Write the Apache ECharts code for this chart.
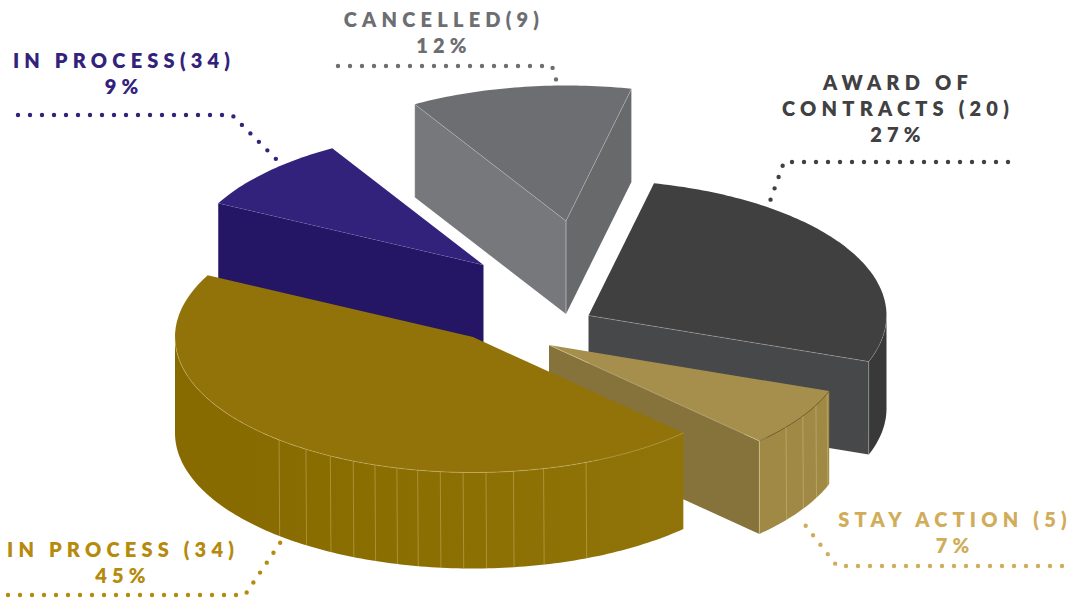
<!DOCTYPE html>
<html>
<head>
<meta charset="utf-8">
<title>Case status</title>
<style>
  html, body { margin: 0; padding: 0; background: #fff; }
  #chart { width: 1072px; height: 599px; }
  #chart svg text { letter-spacing: 5.2px; }
</style>
<script src="https://cdn.jsdelivr.net/npm/echarts@6/dist/echarts.min.js"></script>
</head>
<body>
<div id="chart"></div>
<script>
// Slice data, clockwise, starting from the back-left slice.
const categories = ['IN PROCESS(34)', 'CANCELLED(9)', 'AWARD OF\nCONTRACTS (20)', 'STAY ACTION (5)', 'IN PROCESS (34)'];
const shares = [9, 12, 27, 7, 45];

// Projection of the disc.
const START_ANGLE = 207.1;
const RADIUS_X = 298;
const RADIUS_Y = 135.5;
const DEPTH = 93;
const PIE_CENTER = [530, 300];

// Per-slice explosion offset from the disc centre, plus a depth tweak.
const explode = [[-46.5, -35], [36, -79], [58.5, 15.5], [19, 45], [-57, 37]];
const depthExtra = [0, 0, 0, 0, 3];

// Face colours per slice.
const topColors = ['#33227b', '#6d6e71', '#404040', '#a68f4d', '#917309'];
const startWallColors = ['#251665', '#77787b', '#47484a', '#86733b', '#917309'];
const endWallColors = ['#251665', '#68696b', '#47484a', '#86733b', '#917309'];
const outerColors = [
  '#251665', '#68696b', '#39393a', '#a08945',
  { type: 'linear', x: 0, y: 0, x2: 1, y2: 0, colorStops: [
    { offset: 0, color: '#876a00' }, { offset: 0.5, color: '#8c6f02' }, { offset: 1, color: '#917409' }
  ] }
];
const rimColors = ['none', 'none', 'rgba(255,255,255,0.25)', 'rgba(70,60,20,0.6)', 'rgba(225,210,150,0.5)'];
const edgeColors = ['rgba(255,255,255,0.08)', 'rgba(255,255,255,0.3)', 'rgba(255,255,255,0.3)', 'rgba(255,245,200,0.4)', 'none'];
const labelColors = ['#33227b', '#6d6e71', '#414042', '#d1ad5b', '#b58a0d'];

// Moulding seams on the outer wall, as angles round the disc.
const seamAngles = [
  [], [], [],
  [21, 26.4, 31.6, 37.3],
  [67.7, 76.3, 82.2, 87.5, 91.9, 96.3, 100.7, 104.8, 109.2, 113.7, 118.6, 124.1, 130.6]
];

// Label block centres and their dotted leaders.
const labelAnchors = [[124, 73], [444, 32], [898, 108], [955, 532], [123, 562]];
const leaders = [
  [[18, 115], [232, 115], [282, 165]],
  [[338, 66], [552, 66], [558, 86]],
  [[1008, 162], [784, 162], [769, 204]],
  [[1062, 566], [837, 566], [802, 521]],
  [[8, 595], [245, 595], [282, 540]]
];

const rad = d => d * Math.PI / 180;

// Cumulative start and end angle of each slice, from the shares alone.
const total = shares.reduce((a, b) => a + b, 0);
const spans = [];
shares.reduce((from, v) => {
  const to = from + v / total * 360;
  spans.push([from, to]);
  return to;
}, START_ANGLE);

function renderSlice(params, api) {
  const i = params.dataIndex;
  const share = api.value(0);
  const [t1, t2] = spans[i];
  const cx = PIE_CENTER[0] + explode[i][0];
  const cy = PIE_CENTER[1] + explode[i][1];
  const depth = DEPTH + depthExtra[i];
  const rim = (t, drop) => [cx + RADIUS_X * Math.cos(rad(t)), cy + RADIUS_Y * Math.sin(rad(t)) + (drop || 0)];
  const arc = (a, b, drop) => {
    const pts = [];
    const n = Math.max(2, Math.ceil(Math.abs(b - a)));
    for (let k = 0; k <= n; k++) pts.push(rim(a + (b - a) * k / n, drop));
    return pts;
  };
  const apex = [cx, cy];
  const apexLow = [cx, cy + depth];
  const children = [];

  // A straight cut face shows when its outward side turns towards the viewer.
  const cutWall = (t, fill) => children.push({
    type: 'polygon',
    shape: { points: [apex, rim(t), rim(t, depth), apexLow] },
    style: { fill: fill }
  });
  const startShows = Math.cos(rad(t1)) < 0;
  const endShows = Math.cos(rad(t2)) > 0;
  if (startShows) cutWall(t1, startWallColors[i]);
  if (endShows) cutWall(t2, endWallColors[i]);

  // Curved wall: only the part on the near half of the rim.
  const candidates = [[t1, t2], [t1 - 360, t2 - 360]];
  let near = null;
  for (const [a, b] of candidates) {
    const lo = Math.max(a, 0);
    const hi = Math.min(b, 180);
    if (hi > lo) near = [lo, hi];
  }
  if (near) {
    const top = arc(near[0], near[1]);
    const bottom = arc(near[1], near[0], depth);
    children.push({
      type: 'polygon',
      shape: { points: top.concat(bottom) },
      style: { fill: outerColors[i] }
    });
    seamAngles[i].forEach(t => children.push({
      type: 'line',
      shape: { x1: rim(t)[0], y1: rim(t)[1], x2: rim(t)[0] + 0.6, y2: rim(t, depth)[1] },
      style: { stroke: 'rgba(225,210,150,0.45)', lineWidth: 0.8 }
    }));
  }

  // Top face.
  children.push({
    type: 'polygon',
    shape: { points: [apex].concat(arc(t1, t2)) },
    style: { fill: topColors[i] }
  });

  // Fine highlights along the visible top edges and corners.
  if (near && rimColors[i] !== 'none') {
    children.push({
      type: 'polyline',
      shape: { points: arc(near[0], near[1]) },
      style: { fill: 'none', stroke: rimColors[i], lineWidth: 0.7 }
    });
  }
  if (edgeColors[i] !== 'none') {
    const edge = (t, withCorner) => {
      children.push({
        type: 'polyline',
        shape: { points: withCorner ? [rim(t), apex, apexLow] : [rim(t), apex] },
        style: { fill: 'none', stroke: edgeColors[i], lineWidth: 0.8 }
      });
      children.push({
        type: 'line',
        shape: { x1: rim(t)[0], y1: rim(t)[1], x2: rim(t)[0], y2: rim(t, depth)[1] },
        style: { stroke: edgeColors[i], lineWidth: 0.8 }
      });
    };
    if (startShows) edge(t1, endShows);
    if (endShows) edge(t2, startShows);
  }

  // Dotted leader and the two-part label.
  children.push({
    type: 'polyline',
    shape: { points: leaders[i] },
    style: { fill: 'none', stroke: labelColors[i], lineWidth: 4.4, lineCap: 'round', lineJoin: 'round', lineDash: [0, 12] }
  });
  children.push({
    type: 'text',
    x: labelAnchors[i][0],
    y: labelAnchors[i][1],
    style: {
      text: categories[i] + '\n' + share + '%',
      fill: labelColors[i],
      font: '800 20px Lato',
      fontFamily: 'Lato',
      fontWeight: 800,
      fontSize: 20,
      lineHeight: 26,
      textAlign: 'center',
      textVerticalAlign: 'middle'
    }
  });

  return { type: 'group', children: children };
}

const chart = echarts.init(document.getElementById('chart'), null, { renderer: 'svg' });
chart.setOption({
  animation: false,
  backgroundColor: '#ffffff',
  tooltip: { show: false },
  series: [{
    type: 'custom',
    coordinateSystem: 'none',
    silent: true,
    data: shares.map(v => [v]),
    renderItem: renderSlice
  }]
});
</script>
</body>
</html>
